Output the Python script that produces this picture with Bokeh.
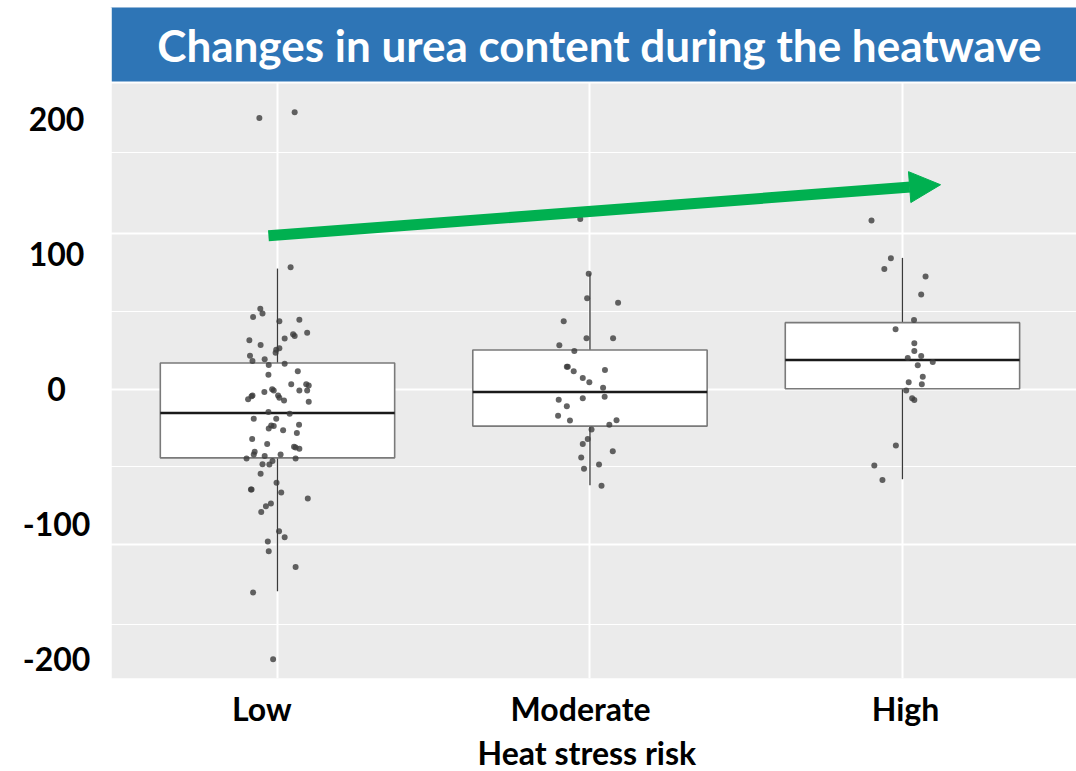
from bokeh.plotting import figure
from bokeh.models import (Range1d, FixedTicker, ColumnDataSource, Arrow,
                          NormalHead, Label, Title, BoxAnnotation)
from bokeh.embed import file_html
from bokeh.resources import INLINE
from bokeh.core.properties import value

# ---------------- data ----------------
categories = ["Low", "Moderate", "High"]
category_x = [1, 2, 3]

low_values = [200.5, 204.7, 90.1, 59.3, 55.8, 53.3, 50.1, 51.3, 41.7, 36.1,
              37.3, 40.5, 39.3, 32.6, 29.1, 30.1, 26.9, 24.7, 20.7, 22.0,
              17.8, 18.7, 10.6, 13.1, 3.5, 3.5, 2.7, -2.2, -0.2, -1.0,
              -1.0, -1.0, -4.7, -5.4, -7.6, -4.7, -6.4, -8.4, -9.4, -17.0,
              -18.3, -22.0, -22.0, -26.4, -26.9, -27.4, -29.1, -30.4, -32.6, -37.0,
              -40.7, -42.7, -43.2, -44.2, -46.4, -48.4, -49.6, -48.4, -51.3, -51.3,
              -53.3, -55.8, -55.6, -62.7, -69.4, -74.3, -74.3, -76.5, -81.0, -84.7,
              -86.7, -90.9, -105.2, -109.6, -112.8, -120.0, -131.6, -150.4, -199.8]
low_jitter = [-0.058, 0.055, 0.042, -0.055, -0.048, -0.078, 0.006, 0.070, 0.095, -0.090,
              0.023, 0.050, 0.055, -0.054, -0.004, 0.006, -0.006, -0.088, -0.080, -0.041,
              -0.028, 0.023, -0.029, 0.065, 0.044, 0.092, 0.100, -0.042, -0.017, -0.012,
              0.070, 0.095, -0.080, -0.083, -0.094, 0.002, 0.006, 0.021, 0.100, -0.029,
              0.039, -0.076, -0.004, 0.069, -0.020, -0.012, -0.028, 0.018, 0.062, -0.081,
              -0.033, 0.053, 0.058, 0.070, -0.073, -0.076, -0.041, 0.010, -0.099, 0.058,
              -0.016, -0.026, -0.048, -0.054, -0.003, -0.085, -0.083, 0.012, 0.097, -0.021,
              -0.037, -0.052, 0.005, 0.023, -0.031, -0.028, 0.058, -0.078, -0.014]

moderate_values = [125.7, 85.2, 67.2, 63.9, 50.1, 37.6, 37.6, 32.4, 28.1, 16.5,
                   16.5, 13.1, 14.1, 8.1, 5.0, 1.0, -5.7, -6.9, -7.9, -12.8,
                   -19.8, -23.2, -23.0, -26.4, -29.9, -37.0, -40.7, -46.1, -50.6, -55.8,
                   -59.0, -71.6]
moderate_jitter = [-0.031, -0.004, -0.009, 0.090, -0.084, -0.011, 0.074, -0.098, -0.050, -0.074,
                   -0.071, -0.052, 0.048, -0.023, -0.002, 0.042, 0.047, -0.023, -0.100, -0.074,
                   -0.102, -0.064, 0.085, 0.062, 0.005, -0.007, -0.023, 0.073, -0.028, 0.029,
                   -0.019, 0.037]

high_values = [124.7, 96.8, 88.7, 83.2, 69.9, 51.1, 44.2, 33.9, 28.1, 23.0,
               24.4, 20.0, 17.6, 9.1, 5.0, 3.5, -1.0, -6.9, -8.1, -41.7,
               -56.5, -67.2]
high_jitter = [-0.099, -0.037, -0.058, 0.074, 0.060, 0.037, -0.022, 0.038, 0.038, 0.017,
               0.060, 0.097, 0.049, 0.065, 0.020, 0.062, 0.012, 0.031, 0.038, -0.021,
               -0.090, -0.064]

q1 = [-50.9, -27.4, 0.2]
median = [-17.8, -2.2, 21.5]
q3 = [19.3, 28.9, 49.1]
whisker_low = [-149.6, -71.1, -66.7]
whisker_high = [89.1, 85.4, 97.0]

y_tick_values = [200, 100, 0, -100, -200]
y_tick_labels = ["200", "100", "0", "-100", "-200"]

title_text = "Changes in urea content during the heatwave"
x_title = "Heat stress risk"

# trend arrow (start / end in data units)
arrow_start = (0.971, 113.3)
arrow_end = (3.122, 151.1)

# ---------------- style ----------------
FONT = "Lato"
PANEL = "#EBEBEB"
BLUE = "#2E75B6"
GREEN = "#00B050"
BOX_WIDTH = 0.75
LABEL_NUDGE = [-0.05, -0.03, 0.01]
PANEL_LEFT = 0.4688       # left edge of the grey panel (data units)
X_END = 3.557
Y_LABEL_X = 0.293         # centre of the y tick labels (data units)

p = figure(width=1076, height=771,
           x_range=Range1d(0.1136, X_END), y_range=Range1d(-214.1, 282.2),
           output_backend="svg", toolbar_location=None,
           min_border_left=0, min_border_right=0,
           min_border_top=7, min_border_bottom=91)
p.background_fill_color = "white"
p.border_fill_color = "white"
p.outline_line_color = None

# grey panel, painted under the grid lines
panel = BoxAnnotation(left=PANEL_LEFT, fill_color=PANEL, fill_alpha=1.0,
                      line_color=None, level="underlay")
p.center = [panel] + list(p.center)

# grid
p.xgrid.ticker = FixedTicker(ticks=category_x)
p.xgrid.grid_line_color = "white"
p.xgrid.grid_line_width = 2
p.ygrid.ticker = FixedTicker(ticks=[115, 0, -115], minor_ticks=[175, 57, -57, -174])
p.ygrid.grid_line_color = "white"
p.ygrid.grid_line_width = 2
p.ygrid.minor_grid_line_color = "white"
p.ygrid.minor_grid_line_width = 1.2

# x axis (category labels)
label_ticks = [c + n for c, n in zip(category_x, LABEL_NUDGE)]
p.xaxis.ticker = FixedTicker(ticks=label_ticks)
p.xaxis.major_label_overrides = {t: c for t, c in zip(label_ticks, categories)}
p.xaxis.axis_line_color = None
p.xaxis.major_tick_line_color = None
p.xaxis.minor_tick_line_color = None
p.xaxis.major_label_text_font = FONT
p.xaxis.major_label_text_font_style = "bold"
p.xaxis.major_label_text_font_size = "32px"
p.xaxis.major_label_text_color = "black"
p.xaxis.major_label_text_line_height = 1.0
p.xaxis.major_label_standoff = 4

# x axis title, placed under the category labels
p.add_layout(Title(text=x_title, align="left", offset=477, standoff=0,
                   text_font=FONT, text_font_style="bold",
                   text_font_size="32px", text_color="black",
                   text_line_height=1.0), "below")

p.yaxis.visible = False

# banner
p.quad(left=PANEL_LEFT - 0.003, right=4, bottom=226.7, top=400, fill_color=BLUE,
       line_color="white", line_width=2)

# boxes
half = BOX_WIDTH / 2
box_src = ColumnDataSource(dict(
    x=category_x, q1=q1, q3=q3, med=median, lo=whisker_low, hi=whisker_high,
    x0=[x - half for x in category_x], x1=[x + half for x in category_x]))
p.segment(x0="x", y0="q3", x1="x", y1="hi", source=box_src,
          line_color="#3a3a3a", line_width=1.3)
p.segment(x0="x", y0="lo", x1="x", y1="q1", source=box_src,
          line_color="#3a3a3a", line_width=1.3)
p.vbar(x="x", width=BOX_WIDTH, bottom="q1", top="q3", source=box_src,
       fill_color="white", line_color="#7a7a7a", line_width=1.6)
p.segment(x0="x0", y0="med", x1="x1", y1="med", source=box_src,
          line_color="#1a1a1a", line_width=2.5)

# points
for cx, vals, jit in [(1, low_values, low_jitter),
                      (2, moderate_values, moderate_jitter),
                      (3, high_values, high_jitter)]:
    src = ColumnDataSource(dict(x=[cx + j for j in jit], y=vals))
    p.scatter(x="x", y="y", source=src, size=6, fill_color="#3c3c3c",
              line_color=None, fill_alpha=0.8)

# white margin left of the grey panel (hides the grid lines there)
p.quad(left=-1, right=PANEL_LEFT, bottom=-400, top=400, fill_color="white",
       line_color=None)

# y tick labels
ysrc = ColumnDataSource(dict(x=[Y_LABEL_X] * len(y_tick_values),
                             y=y_tick_values, text=y_tick_labels))
p.text(x="x", y="y", text="text", source=ysrc, text_align="center",
       text_baseline="middle", text_font=value(FONT), text_font_style="bold",
       text_font_size="32px", text_color="black")

# title
p.add_layout(Label(x=2.030, y=254.8, text=title_text, text_align="center",
                   text_baseline="middle", text_color="white", text_font=FONT,
                   text_font_style="bold", text_font_size="44px"))

# arrow
p.add_layout(Arrow(end=NormalHead(size=31, fill_color=GREEN, line_color=GREEN),
                   x_start=arrow_start[0], y_start=arrow_start[1],
                   x_end=arrow_end[0], y_end=arrow_end[1],
                   line_color=GREEN, line_width=11))

open("out.html", "w").write(file_html(p, INLINE))
